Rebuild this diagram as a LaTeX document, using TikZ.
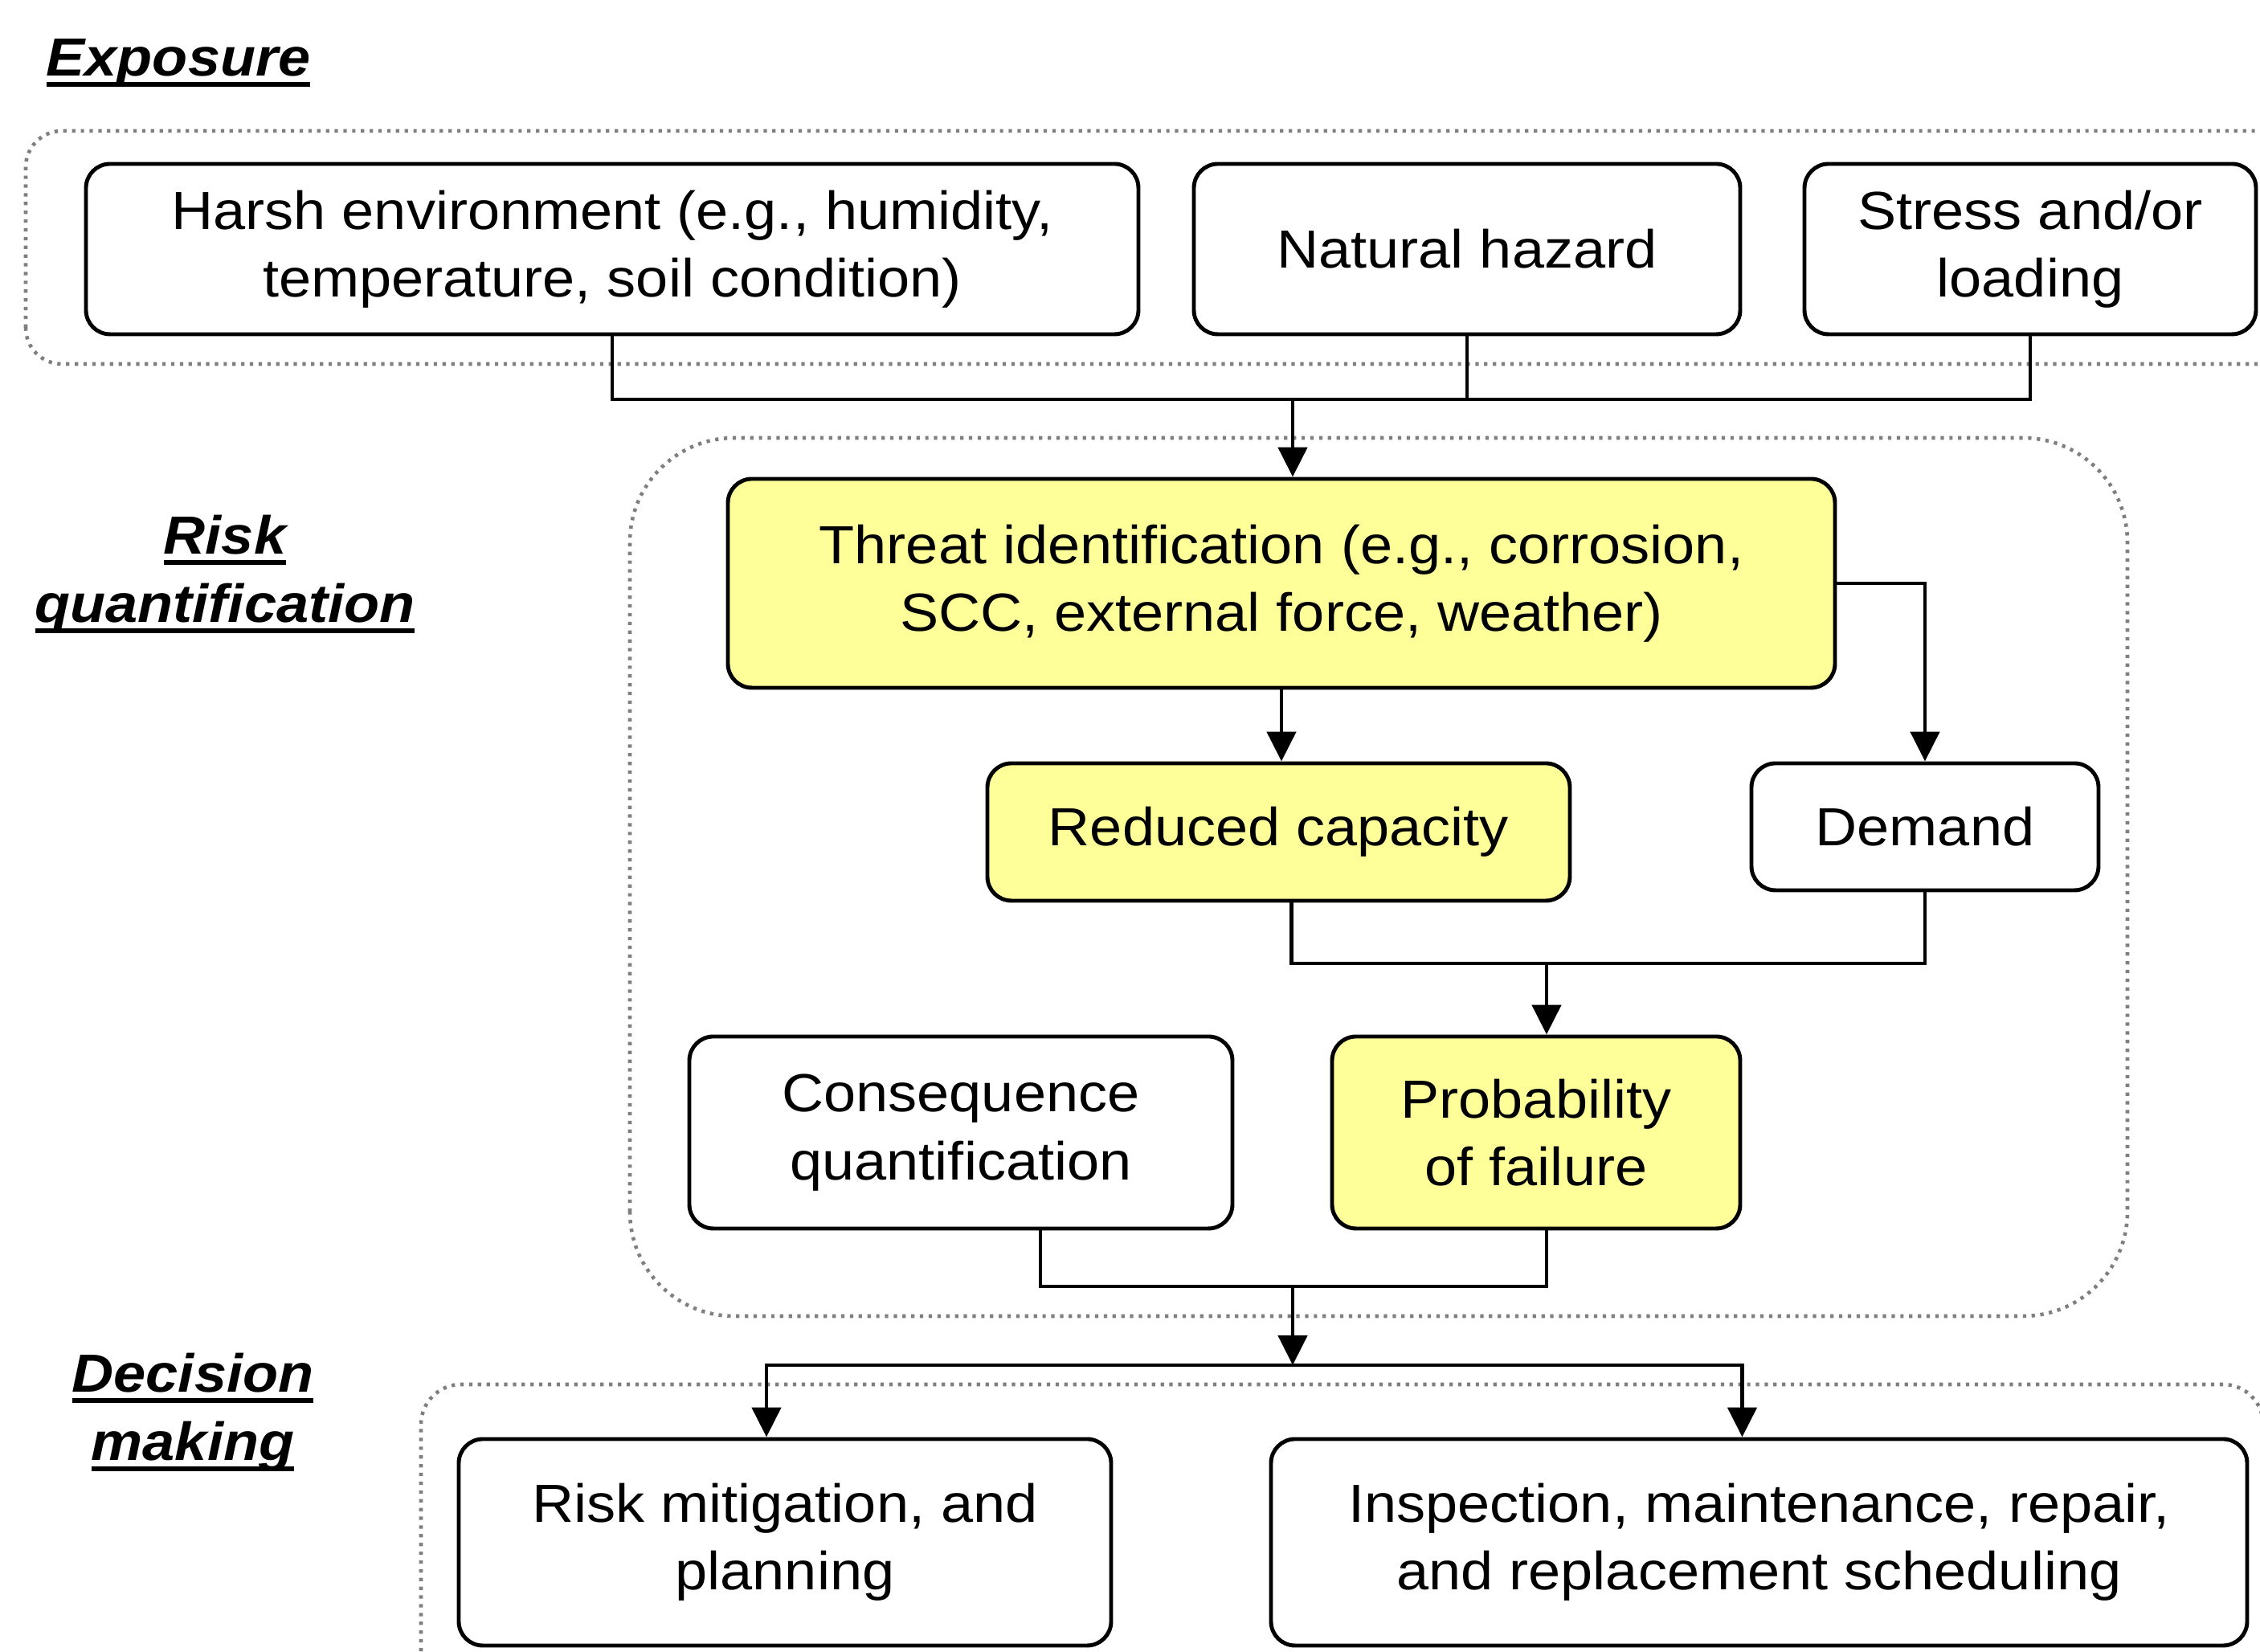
\documentclass[tikz,border=0pt]{standalone}
\usepackage{fontspec}
\setmainfont{Liberation Sans}[FakeStretch=1.08]
\usetikzlibrary{arrows.meta, calc, positioning}
\definecolor{cYel}{HTML}{FFFF99}
\definecolor{cDot}{HTML}{7F7F7F}
\newsavebox{\ulbox}
\newcommand{\ttlul}[1]{\sbox{\ulbox}{#1}\rlap{\usebox{\ulbox}}\rule[-3.7pt]{\wd\ulbox}{1.7pt}}
\tikzset{
    box/.style={draw, line width=1.4pt, rounded corners=0.3cm, align=center,
                inner sep=0pt, font=\fontsize{19}{24}\selectfont},
    blk/.style={box, fill=white},
    hot/.style={box, fill=cYel},
    ttl/.style={font=\fontsize{19}{24}\selectfont\bfseries\itshape, inner sep=0pt},
    zone/.style={draw=cDot, line width=1.3pt, dash pattern=on 1.2pt off 1.9pt},
    link/.style={line width=1.4pt},
    arr/.style={link, -{Triangle[length=0.37cm, width=0.36cm]}},
}

\begin{document}
\begin{tikzpicture}[x=1cm, y=1cm]
\useasboundingbox (0,0) rectangle (28.13,20.56);
\clip (0,0) rectangle (28.13,20.56);

% dotted zones
\draw[zone, rounded corners=0.45cm] (0.32,16.03) rectangle (28.55,18.93);
\draw[zone, rounded corners=1.3cm] (7.84,4.18) rectangle (26.48,15.11);
\draw[zone, rounded corners=0.5cm] (5.24,-0.6) rectangle (28.17,3.33);

% zone titles
\node[ttl, anchor=base west] (tExp) at (0.57,19.61) {\ttlul{Exposure}};
\node[ttl, anchor=base] (tRisk) at (2.80,13.66) {\ttlul{Risk}};
\node[ttl, anchor=base] (tQuant) at (2.80,12.81) {\ttlul{quantification}};
\node[ttl, anchor=base] (tDec) at (2.40,3.23) {\ttlul{Decision}};
\node[ttl, anchor=base] (tMak) at (2.40,2.38) {\ttlul{making}};

% exposure
\node[blk, minimum width=13.10cm, minimum height=2.12cm] (harsh) at (7.62,17.46)
     {Harsh environment (e.g., humidity,\\temperature, soil condition)};
\node[blk, minimum width=6.80cm, minimum height=2.12cm] (hazard) at (18.26,17.46)
     {Natural hazard};
\node[blk, minimum width=5.62cm, minimum height=2.12cm] (stress) at (25.27,17.46)
     {Stress and/or\\loading};

% risk quantification
\node[hot, minimum width=13.78cm, minimum height=2.60cm] (threat) at (15.95,13.30)
     {Threat identification (e.g., corrosion,\\SCC, external force, weather)};
\node[hot, minimum width=7.25cm, minimum height=1.71cm] (reduced) at (15.915,10.205)
     {Reduced capacity};
\node[blk, minimum width=4.32cm, minimum height=1.58cm] (demand) at (23.96,10.27)
     {Demand};
\node[blk, minimum width=6.76cm, minimum height=2.39cm] (cons) at (11.96,6.465)
     {Consequence\\quantification};
\node[hot, minimum width=5.08cm, minimum height=2.39cm] (prob) at (19.12,6.465)
     {Probability\\of failure};

% decision making
\node[blk, minimum width=8.12cm, minimum height=2.57cm] (mitig) at (9.77,1.365)
     {Risk mitigation, and\\planning};
\node[blk, minimum width=12.15cm, minimum height=2.57cm] (insp) at (21.895,1.365)
     {Inspection, maintenance, repair,\\and replacement scheduling};

\coordinate (jTop) at (16.09,15.59);
\coordinate (jMid) at (19.25,8.57);
\coordinate (jLow) at (16.09,4.55);
\coordinate (jSplit) at (16.09,3.57);

% connectors
\draw[link] (harsh.south) |- (stress.south |- jTop) -- (stress.south);
\draw[link] (hazard.south) -- (hazard.south |- jTop);
\draw[arr] (jTop) -- (jTop |- threat.north);
\draw[arr] (threat.south) -- (threat.south |- reduced.north);
\draw[arr] (threat.east) -| (demand.north);
\draw[link] ([xshift=0.16cm]reduced.south) |- (demand.south |- jMid) -- (demand.south);
\draw[arr] (jMid) -- (jMid |- prob.north);
\draw[link] ([xshift=0.99cm]cons.south) |- ([xshift=0.13cm]prob.south |- jLow)
     -- ([xshift=0.13cm]prob.south);
\draw[arr] (jLow) -- (jSplit);
\draw[arr] (jSplit) -| ([xshift=-0.23cm]mitig.north);
\draw[arr] (jSplit) -| ([xshift=-0.21cm]insp.north);

\end{tikzpicture}
\end{document}
